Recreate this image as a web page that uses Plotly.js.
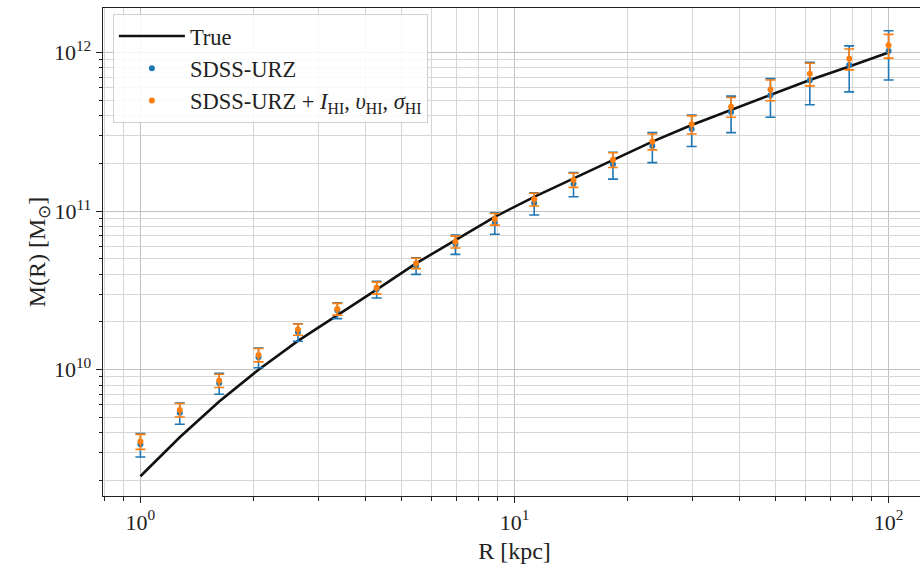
<!DOCTYPE html>
<html>
<head>
<meta charset="utf-8">
<script src="https://cdn.plot.ly/plotly-3.0.1.min.js"></script>
<style>
html,body{margin:0;padding:0;overflow:hidden;background:#fff;}
#chart{width:930px;height:572px;}
</style>
</head>
<body>
<div id="chart"></div>
<script>
// Radii (kpc)
const radius = [1, 1.274, 1.624, 2.069, 2.637, 3.360, 4.281, 5.456, 6.952, 8.859,
                11.29, 14.38, 18.33, 23.36, 29.76, 37.93, 48.33, 61.58, 78.48, 100];
// True enclosed mass
const massTrue = [2.13e9, 3.75e9, 6.3e9, 1.0e10, 1.52e10, 2.2e10, 3.2e10, 4.68e10, 6.6e10, 9.2e10,
                  1.23e11, 1.61e11, 2.1e11, 2.74e11, 3.49e11, 4.34e11, 5.4e11, 6.7e11, 8.15e11, 1.0e12];
// SDSS-URZ estimate and error
const massURZ = [3.39e9, 5.35e9, 8.24e9, 1.2e10, 1.73e10, 2.37e10, 3.22e10, 4.53e10, 6.2e10, 8.45e10,
                 1.124e11, 1.488e11, 1.97e11, 2.57e11, 3.29e11, 4.21e11, 5.37e11, 6.68e11, 8.32e11, 1.02e12];
const errURZ = [0.57e9, 0.82e9, 1.24e9, 0.17e10, 0.22e10, 0.27e10, 0.39e10, 0.54e10, 0.865e10, 1.3e10,
                0.18e11, 0.258e11, 0.38e11, 0.55e11, 0.74e11, 1.09e11, 1.47e11, 2.0e11, 2.68e11, 3.5e11];
// SDSS-URZ + HI estimate and error
const massHI = [3.53e9, 5.58e9, 8.55e9, 1.24e10, 1.795e10, 2.415e10, 3.28e10, 4.69e10, 6.4e10, 8.91e10,
                1.185e11, 1.57e11, 2.105e11, 2.745e11, 3.52e11, 4.55e11, 5.83e11, 7.35e11, 9.13e11, 1.11e12];
const errHI = [0.385e9, 0.54e9, 0.82e9, 0.12e10, 0.145e10, 0.205e10, 0.285e10, 0.35e10, 0.55e10, 0.75e10,
               0.109e11, 0.16e11, 0.225e11, 0.315e11, 0.46e11, 0.65e11, 0.87e11, 1.2e11, 1.37e11, 1.9e11];

// Tick labels
const xTickVals = [1, 10, 100];
const xTickText = ['10<sup>0</sup>', '10<sup>1</sup>', '10<sup>2</sup>'];
const yTickVals = [1e10, 1e11, 1e12];
const yTickText = ['10<sup>10</sup>', '10<sup>11</sup>', '10<sup>12</sup>'];
// Minor tick positions (2..9 per decade)
const xMinorVals = [0.8, 0.9, 2, 3, 4, 5, 6, 7, 8, 9, 20, 30, 40, 50, 60, 70, 80, 90, 200];
const yMinorVals = [2e9, 3e9, 4e9, 5e9, 6e9, 7e9, 8e9, 9e9,
                    2e10, 3e10, 4e10, 5e10, 6e10, 7e10, 8e10, 9e10,
                    2e11, 3e11, 4e11, 5e11, 6e11, 7e11, 8e11, 9e11];

const serif = "'Liberation Serif', 'Times New Roman', serif";
const blue = '#1f77b4', orange = '#ff7f0e';
const ink = '#222';
const xRange = [-0.1, 2.1], yRange = [9.204, 12.28];

const traces = [
  {x: radius, y: massTrue, type: 'scatter', mode: 'lines', name: 'True',
   line: {color: '#111', width: 2.6}},
  {x: radius, y: massURZ, type: 'scatter', mode: 'markers', name: 'SDSS-URZ',
   marker: {color: blue, size: 6},
   error_y: {type: 'data', array: errURZ, visible: true, color: blue, thickness: 1.6, width: 5}},
  {x: radius, y: massHI, type: 'scatter', mode: 'markers',
   name: 'SDSS-URZ + <i>I</i><sub>HI</sub>, <i>υ</i><sub>HI</sub>, <i>σ</i><sub>HI</sub>',
   marker: {color: orange, size: 6},
   error_y: {type: 'data', array: errHI, visible: true, color: orange, thickness: 1.6, width: 5}},
  // anchor trace for the minor-grid overlay axes (invisible)
  {x: [radius[0]], y: [massTrue[0]], xaxis: 'x2', yaxis: 'y2', type: 'scatter', mode: 'markers',
   marker: {opacity: 0}, showlegend: false, hoverinfo: 'skip'}
];

const layout = {
  width: 930, height: 572,
  margin: {l: 103, r: 4, t: 8, b: 76},
  paper_bgcolor: '#fff', plot_bgcolor: '#fff',
  font: {family: serif, size: 20, color: ink},
  showlegend: true,
  legend: {x: 0.012, y: 0.988, xanchor: 'left', yanchor: 'top',
           itemwidth: 66,
           bgcolor: 'rgba(255,255,255,0.85)', bordercolor: '#d0d0d0', borderwidth: 1,
           font: {family: serif, size: 22.5, color: ink}},
  xaxis: {
    type: 'log', range: xRange,
    tickvals: xTickVals, ticktext: xTickText,
    ticks: 'outside', ticklen: 6, tickcolor: ink, tickwidth: 1,
    showline: true, linecolor: ink, linewidth: 1.3, mirror: true,
    showgrid: true, gridcolor: '#c2c2c2', gridwidth: 1,
    zeroline: false,
    tickfont: {family: serif, size: 22, color: ink},
    title: {text: 'R [kpc]', font: {family: serif, size: 24, color: ink}, standoff: 8}
  },
  yaxis: {
    type: 'log', range: yRange,
    tickvals: yTickVals, ticktext: yTickText,
    ticks: 'outside', ticklen: 6, tickcolor: ink, tickwidth: 1,
    showline: true, linecolor: ink, linewidth: 1.3, mirror: true,
    showgrid: true, gridcolor: '#c2c2c2', gridwidth: 1,
    zeroline: false,
    tickfont: {family: serif, size: 22, color: ink},
    title: {text: 'M(R) [M<sub>⊙</sub>]', font: {family: serif, size: 24, color: ink}, standoff: 0}
  },
  xaxis2: {
    type: 'log', range: xRange, overlaying: 'x', anchor: 'y2', side: 'bottom',
    tickvals: xMinorVals, showticklabels: false,
    ticks: 'outside', ticklen: 3.5, tickcolor: ink, tickwidth: 1,
    showgrid: true, gridcolor: '#d6d6d6', gridwidth: 1, zeroline: false, showline: false
  },
  yaxis2: {
    type: 'log', range: yRange, overlaying: 'y', anchor: 'x2', side: 'left',
    tickvals: yMinorVals, showticklabels: false,
    ticks: 'outside', ticklen: 3.5, tickcolor: ink, tickwidth: 1,
    showgrid: true, gridcolor: '#d6d6d6', gridwidth: 1, zeroline: false, showline: false
  }
};

Plotly.newPlot('chart', traces, layout, {displayModeBar: false, staticPlot: true});
</script>
</body>
</html>
